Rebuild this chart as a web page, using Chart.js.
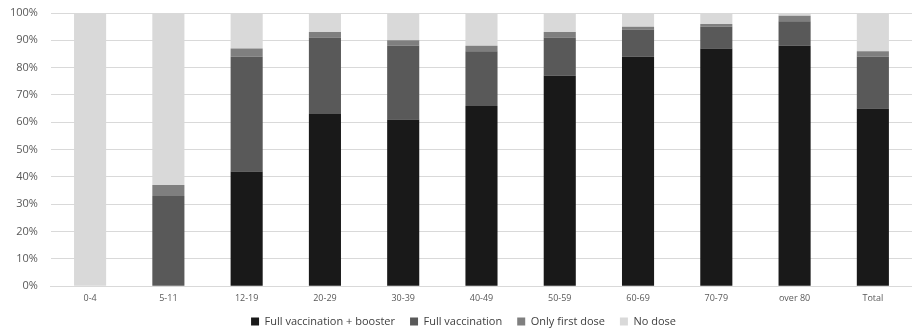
<!DOCTYPE html>
<html>
<head>
<meta charset="utf-8">
<script src="https://cdn.jsdelivr.net/npm/chart.js@4"></script>
<style>
  html, body { margin: 0; padding: 0; background: #fff; }
  #wrap { width: 912px; height: 331px; }
</style>
</head>
<body>
<div id="wrap"><canvas id="grafico"></canvas></div>
<script>
var categorias = ['0-4', '5-11', '12-19', '20-29', '30-39', '40-49', '50-59', '60-69', '70-79', 'over 80', 'Total'];

var dadosReforco = [0, 0, 42, 63, 61, 66, 77, 84, 87, 88, 65];
var dadosCompleta = [0, 33, 42, 28, 27, 20, 14, 10, 8, 9, 19];
var dadosPrimeira = [0, 4, 3, 2, 2, 2, 2, 1, 1, 2, 2];
var dadosNenhuma = [100, 63, 13, 7, 10, 12, 7, 5, 4, 1, 14];

var ticksY = [0, 10, 20, 30, 40, 50, 60, 70, 80, 90, 100];

Chart.defaults.font.family = "'Open Sans', 'Liberation Sans', sans-serif";
Chart.defaults.color = '#595959';

// legenda ocupa menos altura no layout, mas continua desenhada inteira
var ajusteLegenda = {
    id: 'ajusteLegenda',
    beforeInit: function (chart) {
        var fitOriginal = chart.legend.fit;
        chart.legend.fit = function () {
            fitOriginal.bind(chart.legend)();
            this.height = 20;
        };
    },
    afterLayout: function (chart) {
        chart.legend.top -= 10;
        chart.legend.height += 10;
        chart.legend.left += 9;
        chart.legend.right += 9;
    }
};

var dados = {
    labels: categorias,
    datasets: [{
        label: 'Full vaccination + booster',
        data: dadosReforco,
        backgroundColor: '#191919'
    },
    {
        label: 'Full vaccination',
        data: dadosCompleta,
        backgroundColor: '#595959'
    },
    {
        label: 'Only first dose',
        data: dadosPrimeira,
        backgroundColor: '#7f7f7f'
    },
    {
        label: 'No dose',
        data: dadosNenhuma,
        backgroundColor: '#d9d9d9'
    }]
};

var grafico = new Chart(document.getElementById('grafico'), {
    type: 'bar',
    data: dados,
    plugins: [ajusteLegenda],
    options: {
        responsive: true,
        maintainAspectRatio: false,
        animation: false,
        layout: { padding: { top: 0, right: 0, left: -3, bottom: 0 } },
        datasets: {
            bar: { barPercentage: 0.41, categoryPercentage: 1 }
        },
        scales: {
            x: {
                stacked: true,
                grid: { display: false, drawTicks: false },
                border: { color: '#d9d9d9' },
                ticks: { font: { size: 9 }, color: '#595959', padding: 7 }
            },
            y: {
                stacked: true,
                min: 0,
                max: 100,
                afterBuildTicks: function (eixo) {
                    eixo.ticks = ticksY.map(function (v) { return { value: v }; });
                },
                afterFit: function (eixo) {
                    eixo.paddingTop = 13;
                },
                grid: { color: '#d9d9d9', drawTicks: false },
                border: { display: false },
                ticks: {
                    font: { size: 11 },
                    color: '#595959',
                    padding: 13,
                    callback: function (v) { return v + '%'; }
                }
            }
        },
        plugins: {
            legend: {
                position: 'bottom',
                labels: {
                    boxWidth: 8,
                    boxHeight: 8,
                    padding: 15,
                    font: { size: 11 },
                    color: '#404040'
                }
            },
            tooltip: { enabled: false }
        }
    }
});
</script>
</body>
</html>
